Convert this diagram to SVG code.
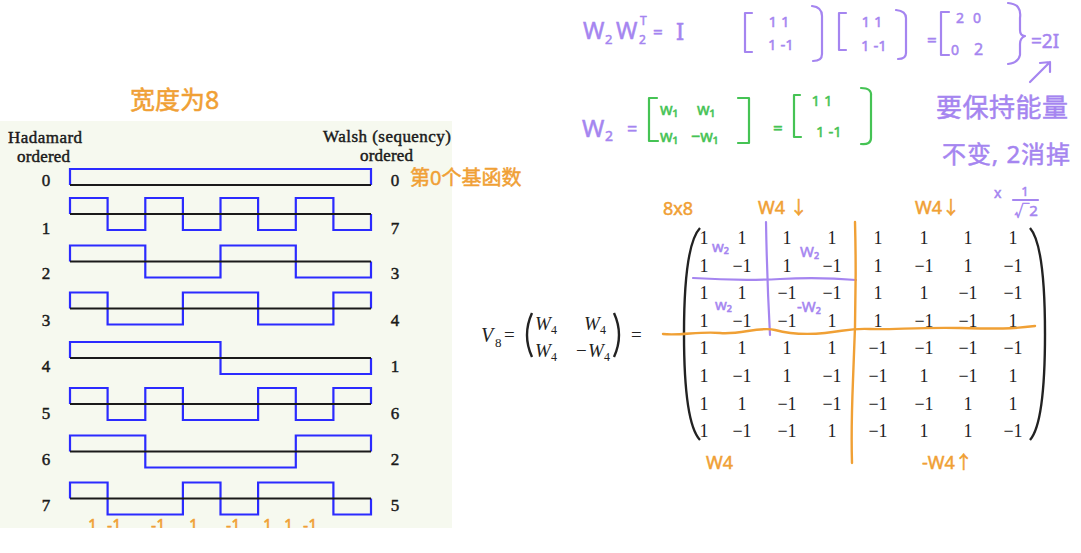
<svg xmlns="http://www.w3.org/2000/svg" width="1081" height="553" viewBox="0 0 1081 553">
<defs>
<style>
.ser{font-family:"Liberation Serif","DejaVu Serif",serif;fill:#1a1a1a;stroke:#1a1a1a;stroke-width:0.45}
.num{font-size:17px;text-anchor:middle}
.wave{fill:none;stroke:#2b2bff;stroke-width:2.2;stroke-linejoin:miter}
.base{stroke:#1a1a1a;stroke-width:2}
.hw{font-family:"Noto Sans","Noto Sans CJK SC",sans-serif;stroke-width:0.5}
.or{fill:#f0a035;stroke:#f0a035}
.pu{fill:#a585f0;stroke:#a585f0}
.gr{fill:#45c354;stroke:#45c354}
.orl{fill:none;stroke:#f0a035;stroke-width:2.4;stroke-linecap:round}
.pul{fill:none;stroke:#a585f0;stroke-width:2.2;stroke-linecap:round;stroke-linejoin:round}
.grl{fill:none;stroke:#45c354;stroke-width:2.2;stroke-linecap:round;stroke-linejoin:round}
.mx{font-family:"Liberation Serif","DejaVu Serif",serif;font-size:18px;fill:#222;text-anchor:middle}
.eq{font-family:"Liberation Serif","DejaVu Serif",serif;fill:#222}
.it{font-style:italic}
.par{fill:none;stroke:#222;stroke-width:2.4}
</style>
<clipPath id="panelClip"><rect x="0" y="0" width="1081" height="528"/></clipPath>
</defs>
<rect width="1081" height="553" fill="#ffffff"/>

<g id="walsh-panel">
<rect x="0" y="121" width="452" height="407" fill="#f6f9ef"/>
<text class="ser" x="8" y="143" font-size="17" textLength="74">Hadamard</text>
<text class="ser" x="17" y="162" font-size="17" textLength="53">ordered</text>
<text class="ser" x="323" y="142" font-size="17" textLength="128">Walsh (sequency)</text>
<text class="ser" x="360" y="161" font-size="17" textLength="53">ordered</text>

<g id="hadamard-index" class="ser num">
<text x="46" y="186">0</text><text x="46" y="234">1</text><text x="46" y="279">2</text><text x="46" y="326">3</text>
<text x="46" y="372">4</text><text x="46" y="419">5</text><text x="46" y="465">6</text><text x="46" y="511">7</text>
</g>
<g id="walsh-index" class="ser num">
<text x="395" y="186">0</text><text x="395" y="234">7</text><text x="395" y="279">3</text><text x="395" y="326">4</text>
<text x="395" y="372">1</text><text x="395" y="419">6</text><text x="395" y="465">2</text><text x="395" y="511">5</text>
</g>

<g id="waves">
<path class="wave" d="M70,185 V169 H371 V185"/>
<path class="wave" d="M70,214 V198 H107.6 V230 H145.3 V198 H182.9 V230 H220.5 V198 H258.1 V230 H295.8 V198 H333.4 V230 H371 V214"/>
<path class="wave" d="M70,261.5 V245.5 H145.3 V277.5 H220.5 V245.5 H295.8 V277.5 H371 V261.5"/>
<path class="wave" d="M70,308.5 V292.5 H107.6 V324.5 H182.9 V292.5 H258.1 V324.5 H333.4 V292.5 H371 V308.5"/>
<path class="wave" d="M70,358 V342 H220.5 V374 H371 V358"/>
<path class="wave" d="M70,404 V388 H107.6 V420 H145.3 V388 H182.9 V420 H258.1 V388 H295.8 V420 H333.4 V388 H371 V404"/>
<path class="wave" d="M70,451.5 V435.5 H145.3 V467.5 H295.8 V435.5 H371 V451.5"/>
<path class="wave" d="M70,498.5 V482.5 H107.6 V514.5 H182.9 V482.5 H220.5 V514.5 H258.1 V482.5 H333.4 V514.5 H371 V498.5"/>
</g>
<g id="baselines" class="base">
<line x1="70" y1="185" x2="371" y2="185"/>
<line x1="70" y1="214" x2="371" y2="214"/>
<line x1="70" y1="261.5" x2="371" y2="261.5"/>
<line x1="70" y1="308.5" x2="371" y2="308.5"/>
<line x1="70" y1="358" x2="371" y2="358"/>
<line x1="70" y1="404" x2="371" y2="404"/>
<line x1="70" y1="451.5" x2="371" y2="451.5"/>
<line x1="70" y1="498.5" x2="371" y2="498.5"/>
</g>
</g>

<g id="orange-notes-left" class="hw or">
<text x="130" y="109" font-size="25">宽度为8</text>
<text x="410" y="185" font-size="20">第0个基函数</text>
<g clip-path="url(#panelClip)" font-size="16">
<text x="88" y="531">1</text><text x="107" y="531">-1</text><text x="151" y="531">-1</text><text x="189" y="531">1</text>
<text x="226" y="531">-1</text><text x="263" y="531">1</text><text x="284" y="531">1</text><text x="303" y="531">-1</text>
</g>
</g>

<g id="purple-top" class="hw pu">
<text x="583" y="39" font-size="23">W</text>
<text x="605" y="44" font-size="13">2</text>
<text x="616" y="39" font-size="23">W</text>
<text x="639" y="44" font-size="12">2</text>
<text x="640" y="25" font-size="12">T</text>
<text x="653" y="38" font-size="17">=</text>
<text x="676" y="40" font-size="24">I</text>
<path class="pul" d="M752,13 H745 V52 H752"/>
<text x="779" y="27" font-size="15" text-anchor="middle">1  1</text>
<text x="781" y="50" font-size="15" text-anchor="middle">1 -1</text>
<path class="pul" d="M812,6 Q822,7 822,16 V54 Q822,61 813,61"/>
<path class="pul" d="M846,13 H839 V50 H846"/>
<text x="872" y="27" font-size="15" text-anchor="middle">1  1</text>
<text x="874" y="51" font-size="15" text-anchor="middle">1 -1</text>
<path class="pul" d="M896,10 Q906,11 906,18 V53 Q906,59 898,59"/>
<text x="927" y="46" font-size="17">=</text>
<path class="pul" d="M949,12 H941 V55 H949"/>
<text x="956" y="23" font-size="14">2</text><text x="973" y="23" font-size="14">0</text>
<text x="951" y="55" font-size="14">0</text><text x="974" y="55" font-size="16">2</text>
<path class="pul" d="M1008,3 Q1022,4 1020,18 V30 Q1020,36 1025,36 Q1020,38 1020,44 V55 Q1018,63 1008,64"/>
<text x="1031" y="48" font-size="19">=2I</text>
<path class="pul" d="M1030,82 L1050,62 M1040,63 L1050,62 L1050,72"/>
<text x="936" y="117" font-size="26" textLength="132">要保持能量</text>
<text x="942" y="163" font-size="24" textLength="128">不变, 2消掉</text>
<text x="994" y="198" font-size="14">x</text>
<text x="1025" y="196" font-size="13" text-anchor="middle">1</text>
<line class="pul" x1="1013" y1="200" x2="1038" y2="200"/>
<text x="1026" y="216" font-size="15" text-anchor="middle">√2</text>
</g>

<g id="w2-definition">
<text class="hw pu" x="582" y="137" font-size="24">W</text>
<text class="hw pu" x="605" y="141" font-size="14">2</text>
<text class="hw pu" x="627" y="135" font-size="18">=</text>
<path class="grl" d="M657,98 H649 V141 H658"/>
<text class="hw gr" x="660" y="115" font-size="16">w₁</text>
<text class="hw gr" x="697" y="115" font-size="16">w₁</text>
<text class="hw gr" x="660" y="142" font-size="16">w₁</text>
<text class="hw gr" x="691" y="142" font-size="16">−w₁</text>
<path class="grl" d="M738,98 H749 V143 H738"/>
<text class="hw gr" x="773" y="134" font-size="17">=</text>
<path class="grl" d="M800,95 H794 V137 H801"/>
<text class="hw gr" x="822" y="106" font-size="15" text-anchor="middle">1  1</text>
<text class="hw gr" x="829" y="137" font-size="15" text-anchor="middle">1  -1</text>
<path class="grl" d="M861,88 Q872,88 871,96 V138 Q871,145 861,144"/>
</g>

<g id="v8-equation" class="eq">
<text class="it" x="481" y="342" font-size="20">V</text>
<text x="495" y="347" font-size="13">8</text>
<text x="504" y="341" font-size="19">=</text>
<path class="par" d="M532,313 Q522,335 532,357"/>
<text class="it" x="535" y="330" font-size="19">W</text>
<text x="551" y="334" font-size="12">4</text>
<text class="it" x="584" y="330" font-size="19">W</text>
<text x="600" y="334" font-size="12">4</text>
<text class="it" x="535" y="357" font-size="19">W</text>
<text x="551" y="361" font-size="12">4</text>
<text x="576" y="357" font-size="19">−</text>
<text class="it" x="588" y="357" font-size="19">W</text>
<text x="604" y="361" font-size="12">4</text>
<path class="par" d="M614,313 Q624,335 614,357"/>
<text x="631" y="341" font-size="19">=</text>
</g>

<g id="matrix-8x8" class="mx">
<path class="par" d="M700,228 Q684,245 684,334 Q684,423 700,440"/>
<path class="par" d="M1030,228 Q1045,245 1045,334 Q1045,423 1030,440"/>
<text y="244"><tspan x="704">1</tspan><tspan x="742">1</tspan><tspan x="787">1</tspan><tspan x="832">1</tspan><tspan x="878">1</tspan><tspan x="924">1</tspan><tspan x="968">1</tspan><tspan x="1013">1</tspan></text>
<text y="272"><tspan x="704">1</tspan><tspan x="742">−1</tspan><tspan x="787">1</tspan><tspan x="832">−1</tspan><tspan x="878">1</tspan><tspan x="924">−1</tspan><tspan x="968">1</tspan><tspan x="1013">−1</tspan></text>
<text y="299"><tspan x="704">1</tspan><tspan x="742">1</tspan><tspan x="787">−1</tspan><tspan x="832">−1</tspan><tspan x="878">1</tspan><tspan x="924">1</tspan><tspan x="968">−1</tspan><tspan x="1013">−1</tspan></text>
<text y="327"><tspan x="704">1</tspan><tspan x="742">−1</tspan><tspan x="787">−1</tspan><tspan x="832">1</tspan><tspan x="878">1</tspan><tspan x="924">−1</tspan><tspan x="968">−1</tspan><tspan x="1013">1</tspan></text>
<text y="354"><tspan x="704">1</tspan><tspan x="742">1</tspan><tspan x="787">1</tspan><tspan x="832">1</tspan><tspan x="878">−1</tspan><tspan x="924">−1</tspan><tspan x="968">−1</tspan><tspan x="1013">−1</tspan></text>
<text y="382"><tspan x="704">1</tspan><tspan x="742">−1</tspan><tspan x="787">1</tspan><tspan x="832">−1</tspan><tspan x="878">−1</tspan><tspan x="924">1</tspan><tspan x="968">−1</tspan><tspan x="1013">1</tspan></text>
<text y="410"><tspan x="704">1</tspan><tspan x="742">1</tspan><tspan x="787">−1</tspan><tspan x="832">−1</tspan><tspan x="878">−1</tspan><tspan x="924">−1</tspan><tspan x="968">1</tspan><tspan x="1013">1</tspan></text>
<text y="437"><tspan x="704">1</tspan><tspan x="742">−1</tspan><tspan x="787">−1</tspan><tspan x="832">1</tspan><tspan x="878">−1</tspan><tspan x="924">1</tspan><tspan x="968">1</tspan><tspan x="1013">−1</tspan></text>
</g>

<g id="matrix-annotations">
<path class="pul" d="M766,222 Q767,280 770,335"/>
<path class="pul" d="M693,278 Q740,281 780,279 Q820,277 856,280"/>
<path class="orl" d="M855,222 Q857,300 853,380 Q851,430 852,463"/>
<path class="orl" d="M663,334 C680,336 700,331 720,333 S760,326 775,330 S805,335 825,333 S850,328 870,329 S920,327 960,328 S1010,329 1035,326"/>
<g class="hw pu" font-size="15">
<text x="712" y="252">w₂</text>
<text x="800" y="257">W₂</text>
<text x="715" y="310">w₂</text>
<text x="797" y="312">-W₂</text>
</g>
<g class="hw or" font-size="18">
<text x="663" y="215">8x8</text>
<text x="758" y="214">W4 ↓</text>
<text x="915" y="214">W4↓</text>
<text x="706" y="469">W4</text>
<text x="922" y="469">-W4↑</text>
</g>
</g>
</svg>
